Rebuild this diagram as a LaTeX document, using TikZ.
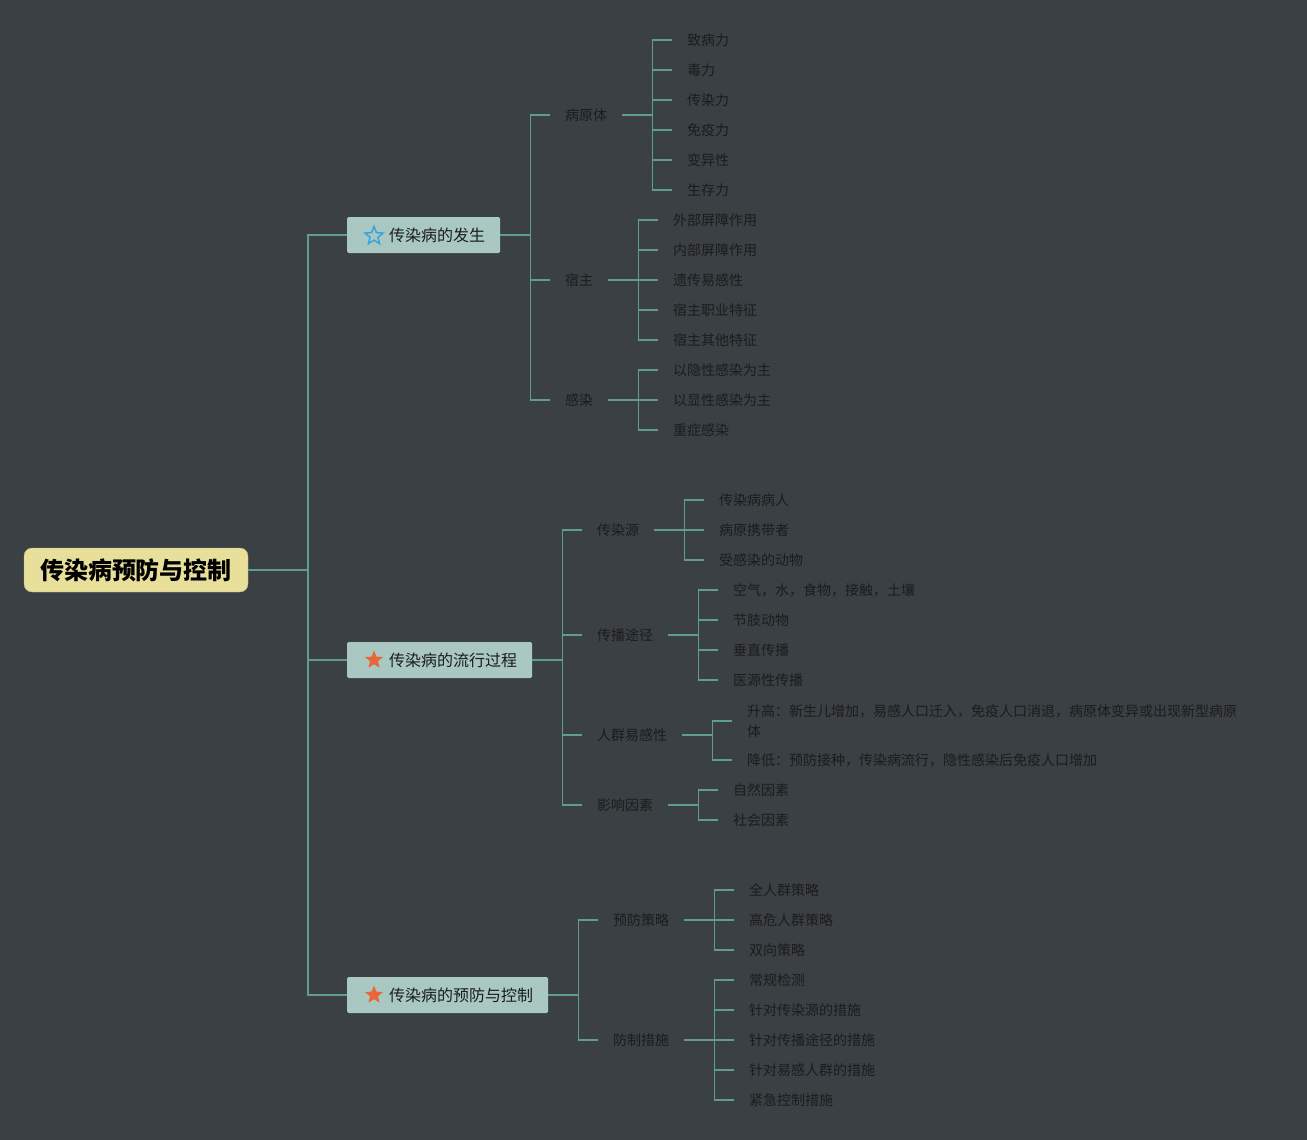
\documentclass[tikz,border=0pt]{standalone}
\usepackage{fontspec}
\setmainfont{Noto Sans CJK SC}
\usetikzlibrary{shapes.geometric}
\definecolor{bgcol}{HTML}{3A4043}
\definecolor{linecol}{HTML}{5F9E8C}
\definecolor{topicfill}{HTML}{A9C8C2}
\definecolor{rootfill}{HTML}{E8E09A}
\definecolor{textcol}{HTML}{1C1C1C}
\definecolor{starorange}{HTML}{E8663A}
\definecolor{starblue}{HTML}{3AA3DC}
\tikzset{
  rootbox/.style={draw=rootfill!80!black, fill=rootfill, rounded corners=8, minimum height=44, inner xsep=16, inner ysep=0, font=\fontsize{24}{28}\selectfont\bfseries, text=black},
  topic/.style={fill=topicfill, rounded corners=1.5, minimum height=36, inner xsep=15, inner ysep=0, font=\fontsize{16}{20}\selectfont, text=textcol, anchor=west},
  sub/.style={inner xsep=15, inner ysep=2, font=\fontsize{14}{20}\selectfont, text=textcol, anchor=west},
  leaf/.style={sub},
  branch/.style={draw=linecol, line width=1.8},
  markstar/.style={star, star points=5, star point ratio=2.3, minimum size=19, inner sep=0}
}
\begin{document}
\begin{tikzpicture}[x=1pt,y=-1pt]
			%%%%% START %%%%%
			\useasboundingbox[fill=bgcol] (0,0) rectangle (1307,1140);
			
			\node[rootbox] (root) at (136,570) {传染病预防与控制};
			
			\node[topic] (fasheng) at (347,235) {\hspace*{27pt}传染病的发生};
			\node[markstar, draw=starblue, line width=1.5] (star1) at (374,236) {};
			\node[topic] (liuxing) at (347,660) {\hspace*{27pt}传染病的流行过程};
			\node[markstar, fill=starorange] (star2) at (374,660) {};
			\node[topic] (yufang) at (347,995) {\hspace*{27pt}传染病的预防与控制};
			\node[markstar, fill=starorange] (star3) at (374,995) {};
			\foreach \t in {fasheng,liuxing,yufang}
				\draw[branch] (root.east) -- ++(60,0) |- (\t.west);
			
			% 传染病的发生
			\node[sub] (bingyuan) at (550,115) {病原体};
			\node[sub] (suzhu) at (550,280) {宿主};
			\node[sub] (ganran) at (550,400) {感染};
			\foreach \t in {bingyuan,suzhu,ganran}
				\draw[branch] (fasheng.east) -- ++(30,0) |- (\t.west);
			\foreach \t [count=\i] in {致病力,毒力,传染力,免疫力,变异性,生存力}{
				\node[leaf] (bingyuan-\i) at (672,10+30*\i) {\t};
				\draw[branch] (bingyuan.east) -- ++(30,0) |- (bingyuan-\i.west);
			}
			\foreach \t [count=\i] in {外部屏障作用,内部屏障作用,遗传易感性,宿主职业特征,宿主其他特征}{
				\node[leaf] (suzhu-\i) at (658,190+30*\i) {\t};
				\draw[branch] (suzhu.east) -- ++(30,0) |- (suzhu-\i.west);
			}
			\foreach \t [count=\i] in {以隐性感染为主,以显性感染为主,重症感染}{
				\node[leaf] (ganran-\i) at (658,340+30*\i) {\t};
				\draw[branch] (ganran.east) -- ++(30,0) |- (ganran-\i.west);
			}
			
			% 传染病的流行过程
			\node[sub] (yuan) at (582,530) {传染源};
			\node[sub] (tujing) at (582,635) {传播途径};
			\node[sub] (renqun) at (582,735) {人群易感性};
			\node[sub] (yinsu) at (582,805) {影响因素};
			\foreach \t in {yuan,tujing,renqun,yinsu}
				\draw[branch] (liuxing.east) -- ++(30,0) |- (\t.west);
			\foreach \t [count=\i] in {传染病病人,病原携带者,受感染的动物}{
				\node[leaf] (yuan-\i) at (704,470+30*\i) {\t};
				\draw[branch] (yuan.east) -- ++(30,0) |- (yuan-\i.west);
			}
			\foreach \t [count=\i] in {空气，水，食物，接触，土壤,节肢动物,垂直传播,医源性传播}{
				\node[leaf] (tujing-\i) at (718,560+30*\i) {\t};
				\draw[branch] (tujing.east) -- ++(30,0) |- (tujing-\i.west);
			}
			\node[leaf, align=left] (renqun-1) at (732,721) {升高：新生儿增加，易感人口迁入，免疫人口消退，病原体变异或出现新型病原\\体};
			\node[leaf] (renqun-2) at (732,760) {降低：预防接种，传染病流行，隐性感染后免疫人口增加};
			\draw[branch] (renqun.east) -- ++(30,0) |- (renqun-1.west);
			\draw[branch] (renqun.east) -- ++(30,0) |- (renqun-2.west);
			\foreach \t [count=\i] in {自然因素,社会因素}{
				\node[leaf] (yinsu-\i) at (718,760+30*\i) {\t};
				\draw[branch] (yinsu.east) -- ++(30,0) |- (yinsu-\i.west);
			}
			
			% 传染病的预防与控制
			\node[sub] (celue) at (598,920) {预防策略};
			\node[sub] (cuoshi) at (598,1040) {防制措施};
			\foreach \t in {celue,cuoshi}
				\draw[branch] (yufang.east) -- ++(30,0) |- (\t.west);
			\foreach \t [count=\i] in {全人群策略,高危人群策略,双向策略}{
				\node[leaf] (celue-\i) at (734,860+30*\i) {\t};
				\draw[branch] (celue.east) -- ++(30,0) |- (celue-\i.west);
			}
			\foreach \t [count=\i] in {常规检测,针对传染源的措施,针对传播途径的措施,针对易感人群的措施,紧急控制措施}{
				\node[leaf] (cuoshi-\i) at (734,950+30*\i) {\t};
				\draw[branch] (cuoshi.east) -- ++(30,0) |- (cuoshi-\i.west);
			}
			%%%%% END %%%%%
\end{tikzpicture}
\end{document}
